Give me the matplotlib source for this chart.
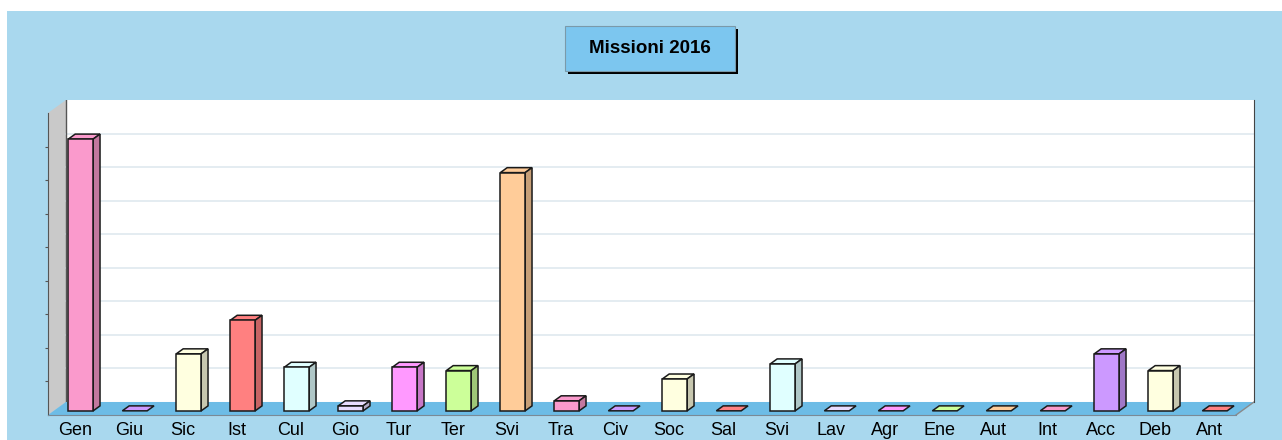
import matplotlib.pyplot as plt
import matplotlib.colors as mcolors
from matplotlib.patches import Polygon, Rectangle

plt.rcParams["font.family"] = ["Liberation Sans", "DejaVu Sans"]

categories = ["Gen", "Giu", "Sic", "Ist", "Cul", "Gio", "Tur", "Ter", "Svi", "Tra", "Civ",
              "Soc", "Sal", "Svi", "Lav", "Agr", "Ene", "Aut", "Int", "Acc", "Deb", "Ant"]
values = [81, 0, 17, 27, 13, 1.5, 13, 12, 71, 3, 0,
          9.5, 0, 14, 0, 0, 0, 0, 0, 17, 12, 0]
palette = ["#FA9ACC", "#CC99FF", "#FFFFE0", "#FF8080", "#E0FFFF",
           "#E8DCFF", "#FF99FF", "#CCFF99", "#FFCC99"]
title = "Missioni 2016"
grid_values = [10, 20, 30, 40, 50, 60, 70, 80]
y_max = 90

BG = "#A9D8EE"
FLOOR = "#6DBCE6"
WALL_SIDE = "#C9C9C9"
GRID = "#DCE7ED"

W, H = 1282, 440
fig = plt.figure(figsize=(W / 100, H / 100), dpi=100, facecolor="white")
fig.patches.append(Rectangle((7 / W, 0), 1 - 7 / W, (H - 11) / H,
                             transform=fig.transFigure, facecolor=BG,
                             edgecolor="none", zorder=-10))

# axes box: front-left floor corner to back-right wall top corner
ax = fig.add_axes([48 / W, 25 / H, 1206 / W, 315 / H])
ax.set_facecolor("none")

n = len(categories)
DX = 18 / 54            # depth offset in category units
DY = 13 / 3.35          # depth offset in value units
ax.set_xlim(-0.5, n - 0.5 + DX)
ax.set_ylim(0, y_max + DY)

x0w, x1w = -0.5, n - 0.5

# walls and floor
ax.add_patch(Polygon([(x0w + DX, DY), (x1w + DX, DY), (x1w + DX, y_max + DY), (x0w + DX, y_max + DY)],
                     closed=True, facecolor="white", edgecolor="none", zorder=0))
ax.add_patch(Polygon([(x0w, 0), (x0w + DX, DY), (x0w + DX, y_max + DY), (x0w, y_max)],
                     closed=True, facecolor=WALL_SIDE, edgecolor="none", zorder=0))
ax.add_patch(Polygon([(x0w, 0), (x1w, 0), (x1w + DX, DY), (x0w + DX, DY)],
                     closed=True, facecolor=FLOOR, edgecolor="none", zorder=1))
for g in grid_values:
    ax.plot([x0w + DX, x1w + DX], [g + DY, g + DY], color=GRID, lw=1.1, zorder=0.5)
ax.plot([x0w + DX, x0w + DX], [DY, y_max + DY], color="#555555", lw=1.0, zorder=0.6)
ax.plot([x1w, x1w + DX], [0, DY], color="#8A8A8A", lw=1.0, zorder=1.1)

# bars (front, side, top faces)
d0, d1 = 0.32, 0.70
w = 0.46
ddx, ddy = (d1 - d0) * DX, (d1 - d0) * DY
edge = "#1a1a1a"
for i, v in enumerate(values):
    col = palette[i % len(palette)]
    dark = tuple(c * 0.78 for c in mcolors.to_rgb(col))
    cx = i + d0 * DX
    bx0, bx1 = cx - w / 2, cx + w / 2
    by = d0 * DY
    ax.add_patch(Polygon([(bx0, by + v), (bx1, by + v), (bx1 + ddx, by + v + ddy), (bx0 + ddx, by + v + ddy)],
                         closed=True, facecolor=col, edgecolor=edge, lw=1.1, zorder=3))
    if v > 0:
        ax.add_patch(Polygon([(bx1, by), (bx1 + ddx, by + ddy), (bx1 + ddx, by + v + ddy), (bx1, by + v)],
                             closed=True, facecolor=dark, edgecolor=edge, lw=1.1, zorder=3))
        ax.bar(cx, v, width=w, bottom=by, color=col, edgecolor=edge, lw=1.1, zorder=3)

# spines
ax.spines["top"].set_visible(False)
ax.spines["left"].set_bounds(0, y_max)
ax.spines["left"].set_color("#555555")
ax.spines["right"].set_bounds(DY, y_max + DY)
ax.spines["right"].set_color("#444444")
ax.spines["bottom"].set_bounds(x0w, x1w)
ax.spines["bottom"].set_color("#7A8A96")

ax.set_yticks(grid_values)
ax.tick_params(axis="y", direction="out", length=2, width=0.8, color="#555555", labelleft=False)
ax.set_xticks(range(n))
ax.set_xticklabels(categories, fontsize=13, color="black")
ax.tick_params(axis="x", length=0, pad=5)

# title box with shadow
bx, by_, bw, bh = 565, 26, 170, 45
fig.patches.append(Rectangle(((bx + 3) / W, (H - by_ - bh - 3) / H), bw / W, bh / H,
                             transform=fig.transFigure, facecolor="black", edgecolor="none", zorder=5))
fig.patches.append(Rectangle((bx / W, (H - by_ - bh) / H), bw / W, bh / H,
                             transform=fig.transFigure, facecolor="#7CC6EF", edgecolor="#7A9AAA",
                             lw=0.8, zorder=6))
fig.text((bx + bw / 2) / W, (H - by_ - bh / 2) / H, title, ha="center", va="center",
         fontsize=13.5, fontweight="bold", color="black", zorder=7)

fig.savefig("out.png", dpi=100, facecolor=fig.get_facecolor())
